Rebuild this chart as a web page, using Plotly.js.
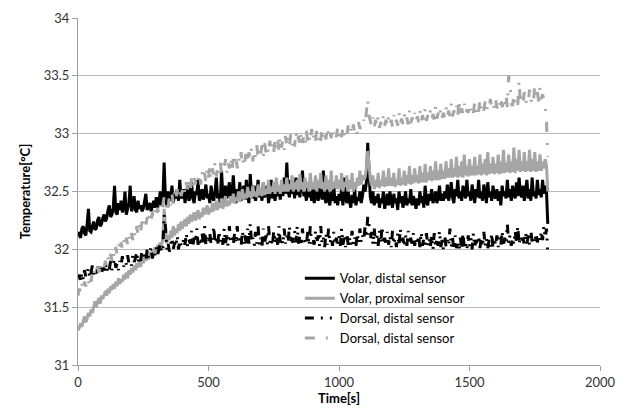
<!DOCTYPE html>
<html>
<head>
<meta charset="utf-8">
<script src="https://cdn.plot.ly/plotly-3.0.1.min.js"></script>
<style>html,body{margin:0;padding:0;background:#fff;}#chart{width:626px;height:410px;}</style>
</head>
<body>
<div id="chart"></div>
<script>
// Samples every 5 s from 0 to 1800 s (one row = 100 s)
const startTime = 0;
const sampleStep = 5;
const seriesNames = ["Volar, distal sensor", "Volar, proximal sensor", "Dorsal, distal sensor", "Dorsal, distal sensor"];

const volarDistal = [
32.15,32.12,32.1,32.18,32.2,32.14,32.12,32.22,32.35,32.16,32.15,32.2,32.24,32.17,32.18,32.25,32.28,32.2,32.22,32.27,
32.3,32.24,32.27,32.34,32.38,32.28,32.3,32.36,32.55,32.32,32.3,32.4,32.34,32.42,32.32,32.36,32.5,32.3,32.34,32.4,
32.55,32.33,32.36,32.46,32.34,32.32,32.42,32.35,32.38,32.33,32.35,32.42,32.48,32.34,32.37,32.4,32.33,32.38,32.42,32.36,
32.45,32.36,32.4,32.5,32.38,32.42,32.75,32.45,32.38,32.5,32.42,32.45,32.55,32.4,32.48,32.44,32.52,32.42,32.6,32.44,
32.46,32.52,32.4,32.48,32.55,32.42,32.46,32.58,32.44,32.4,32.5,32.47,32.6,32.42,32.45,32.52,32.43,32.48,32.56,32.44,
32.48,32.4,32.55,32.45,32.42,32.5,32.62,32.44,32.48,32.4,32.68,32.46,32.42,32.55,32.44,32.5,32.58,32.42,32.47,32.64,
32.45,32.4,32.52,32.46,32.58,32.42,32.48,32.55,32.43,32.6,32.46,32.4,32.65,32.47,32.44,32.55,32.42,32.48,32.6,32.45,
32.5,32.42,32.58,32.45,32.48,32.55,32.4,32.47,32.6,32.44,32.5,32.42,32.55,32.46,32.52,32.43,32.58,32.46,32.62,32.48,
32.75,32.5,32.45,32.6,32.48,32.55,32.44,32.62,32.47,32.52,32.45,32.58,32.68,32.46,32.5,32.42,32.56,32.45,32.5,32.42,
32.52,32.4,32.46,32.55,32.42,32.48,32.58,32.43,32.68,32.45,32.4,32.52,32.44,32.38,32.5,32.42,32.55,32.4,32.46,32.38,
32.48,32.42,32.52,32.38,32.62,32.44,32.4,32.5,32.42,32.36,32.47,32.4,32.52,32.38,32.45,32.42,32.5,32.4,32.46,32.56,
32.5,32.58,32.92,32.7,32.45,32.4,32.5,32.38,32.46,32.4,32.48,32.36,32.44,32.4,32.5,32.35,32.44,32.48,32.38,32.5,
32.42,32.36,32.48,32.4,32.44,32.34,32.5,32.4,32.46,32.36,32.42,32.5,32.38,32.44,32.4,32.52,32.38,32.46,32.42,32.35,
32.44,32.38,32.5,32.4,32.46,32.36,32.55,32.42,32.38,32.48,32.42,32.52,32.4,32.46,32.5,32.4,32.45,32.55,32.42,32.48,
32.42,32.5,32.44,32.56,32.42,32.48,32.58,32.45,32.4,32.52,32.46,32.6,32.44,32.5,32.42,32.55,32.48,32.44,32.6,32.46,
32.5,32.42,32.56,32.46,32.4,32.52,32.45,32.6,32.44,32.5,32.42,32.56,32.46,32.4,32.58,32.45,32.5,32.42,32.55,32.46,
32.44,32.52,32.42,32.5,32.38,32.55,32.46,32.5,32.44,32.6,32.45,32.52,32.42,32.55,32.48,32.44,32.58,32.46,32.62,32.48,
32.45,32.55,32.42,32.5,32.6,32.44,32.52,32.42,32.62,32.46,32.5,32.44,32.6,32.47,32.52,32.45,32.6,32.48,32.55,32.5,
32.22];

const volarProximal = [
31.3,31.32,31.36,31.33,31.38,31.42,31.37,31.4,31.45,31.42,31.48,31.45,31.5,31.55,31.5,31.54,31.58,31.53,31.6,31.57,
31.6,31.64,31.6,31.66,31.62,31.68,31.65,31.7,31.66,31.72,31.68,31.75,31.7,31.74,31.72,31.78,31.74,31.8,31.75,31.82,
31.78,31.84,31.8,31.86,31.82,31.88,31.84,31.9,31.85,31.92,31.88,31.94,31.9,31.96,31.91,31.98,31.94,32.0,31.96,32.02,
31.96,32.04,32.0,32.06,32.02,32.1,32.35,32.2,32.05,32.12,32.08,32.16,32.1,32.2,32.12,32.18,32.14,32.22,32.16,32.24,
32.18,32.22,32.26,32.2,32.28,32.22,32.3,32.24,32.28,32.32,32.25,32.3,32.34,32.26,32.32,32.28,32.36,32.3,32.34,32.38,
32.3,32.36,32.32,32.4,32.33,32.38,32.42,32.34,32.4,32.36,32.44,32.35,32.4,32.46,32.37,32.42,32.38,32.46,32.4,32.48,
32.4,32.45,32.42,32.5,32.41,32.46,32.52,32.43,32.48,32.44,32.54,32.45,32.5,32.44,32.55,32.46,32.5,32.45,32.56,32.47,
32.5,32.46,32.58,32.47,32.52,32.48,32.6,32.48,32.54,32.5,32.58,32.48,32.62,32.5,32.55,32.48,32.6,32.5,32.56,32.5,
32.62,32.5,32.56,32.52,32.64,32.5,32.58,32.52,32.6,32.5,32.65,32.52,32.58,32.5,32.62,32.53,32.58,32.5,32.66,32.52,
32.58,32.52,32.64,32.5,32.6,32.53,32.66,32.52,32.58,32.5,32.64,32.52,32.6,32.5,32.68,32.52,32.58,32.53,32.64,32.52,
32.6,32.52,32.66,32.5,32.58,32.54,32.64,32.5,32.6,32.52,32.66,32.5,32.58,32.52,32.62,32.55,32.68,32.56,32.64,32.6,
32.62,32.7,32.85,32.75,32.6,32.55,32.64,32.52,32.6,32.54,32.66,32.53,32.6,32.55,32.68,32.54,32.62,32.55,32.7,32.55,
32.62,32.55,32.66,32.54,32.6,32.56,32.7,32.55,32.62,32.56,32.68,32.55,32.64,32.57,32.72,32.56,32.64,32.57,32.7,32.58,
32.64,32.57,32.72,32.58,32.66,32.58,32.74,32.58,32.66,32.6,32.72,32.59,32.68,32.6,32.76,32.6,32.68,32.6,32.74,32.61,
32.68,32.61,32.76,32.62,32.7,32.62,32.78,32.62,32.7,32.63,32.8,32.62,32.72,32.63,32.76,32.62,32.82,32.64,32.72,32.63,
32.78,32.64,32.72,32.64,32.8,32.64,32.72,32.65,32.82,32.64,32.74,32.65,32.78,32.64,32.84,32.65,32.74,32.66,32.8,32.65,
32.74,32.66,32.82,32.65,32.76,32.66,32.86,32.66,32.75,32.67,32.82,32.66,32.76,32.67,32.88,32.66,32.78,32.68,32.86,32.67,
32.76,32.68,32.84,32.67,32.76,32.68,32.86,32.67,32.78,32.68,32.84,32.67,32.76,32.68,32.82,32.68,32.76,32.7,32.78,32.72,
32.5];

const dorsalDistalBlack = [
31.75,31.78,31.72,31.8,31.74,31.82,31.76,31.78,31.84,31.75,31.8,31.86,31.78,31.82,31.76,31.85,31.8,31.88,31.79,31.84,
31.82,31.88,31.8,31.86,31.83,31.9,31.82,31.86,31.92,31.84,31.88,31.82,31.9,31.86,31.94,31.85,31.9,31.87,31.95,31.88,
31.9,31.86,31.95,31.89,31.92,31.98,31.88,31.94,31.9,31.99,31.92,31.96,31.9,32.0,31.93,31.97,32.02,31.92,31.98,31.95,
32.02,31.95,31.99,32.05,31.97,32.0,32.3,32.2,32.0,32.06,31.98,32.04,32.1,32.0,32.06,32.02,32.12,32.0,32.08,32.04,
32.02,32.1,32.04,32.14,32.02,32.08,32.05,32.16,32.03,32.1,32.06,32.18,32.04,32.09,32.03,32.14,32.06,32.2,32.04,32.1,
32.05,32.14,32.04,32.08,32.2,32.05,32.12,32.03,32.16,32.06,32.1,32.04,32.18,32.05,32.12,32.03,32.2,32.06,32.1,32.04,
32.14,32.05,32.2,32.06,32.1,32.03,32.16,32.05,32.12,32.04,32.18,32.05,32.22,32.06,32.1,32.03,32.15,32.05,32.2,32.04,
32.1,32.03,32.18,32.05,32.12,32.04,32.2,32.06,32.1,32.03,32.16,32.05,32.12,32.04,32.2,32.06,32.1,32.04,32.18,32.05,
32.12,32.06,32.2,32.05,32.1,32.04,32.16,32.06,32.2,32.05,32.12,32.03,32.18,32.06,32.1,32.04,32.15,32.03,32.2,32.05,
32.1,32.04,32.16,32.05,32.12,32.03,32.2,32.05,32.1,32.02,32.14,32.04,32.18,32.05,32.1,32.03,32.15,32.04,32.1,32.02,
32.12,32.03,32.18,32.04,32.1,32.02,32.14,32.04,32.1,32.03,32.16,32.04,32.1,32.03,32.14,32.05,32.18,32.06,32.12,32.08,
32.2,32.1,32.28,32.22,32.08,32.15,32.04,32.18,32.05,32.12,32.03,32.16,32.05,32.2,32.04,32.1,32.03,32.15,32.04,32.12,
32.02,32.16,32.04,32.1,32.02,32.14,32.03,32.18,32.04,32.1,32.02,32.12,32.03,32.16,32.04,32.1,32.02,32.14,32.03,32.1,
32.04,32.12,32.02,32.15,32.03,32.1,32.01,32.14,32.03,32.1,32.02,32.12,32.0,32.14,32.02,32.1,32.03,32.16,32.02,32.08,
32.0,32.12,32.02,32.08,32.03,32.18,32.02,32.1,32.0,32.12,32.01,32.08,31.99,32.1,32.0,32.14,32.02,32.06,31.99,32.12,
32.02,32.1,32.0,32.14,32.02,32.08,32.03,32.12,32.01,32.1,32.02,32.15,32.03,32.1,32.01,32.08,32.02,32.14,32.01,32.1,
32.03,32.12,32.02,32.1,32.04,32.16,32.02,32.1,32.04,32.22,32.05,32.12,32.03,32.1,32.04,32.16,32.05,32.2,32.04,32.12,
32.05,32.1,32.04,32.15,32.05,32.12,32.04,32.16,32.06,32.1,32.05,32.14,32.06,32.12,32.07,32.16,32.08,32.2,32.1,32.18,
31.96];

const dorsalDistalGray = [
31.6,31.66,31.62,31.7,31.64,31.72,31.68,31.74,31.7,31.78,31.72,31.8,31.76,31.82,31.78,31.85,31.8,31.88,31.82,31.86,
31.84,31.9,31.85,31.93,31.88,31.96,31.9,31.98,31.92,32.02,31.95,32.04,31.98,32.06,32.0,32.08,32.02,32.1,32.04,32.12,
32.06,32.14,32.08,32.16,32.1,32.2,32.12,32.22,32.15,32.24,32.18,32.26,32.2,32.28,32.22,32.3,32.24,32.32,32.26,32.34,
32.28,32.36,32.3,32.38,32.32,32.4,32.45,32.36,32.42,32.36,32.46,32.38,32.48,32.4,32.5,32.42,32.52,32.44,32.54,32.46,
32.5,32.56,32.48,32.58,32.52,32.6,32.5,32.62,32.54,32.64,32.56,32.62,32.58,32.66,32.56,32.68,32.6,32.66,32.58,32.7,
32.62,32.72,32.6,32.7,32.64,32.75,32.63,32.72,32.66,32.76,32.65,32.74,32.68,32.78,32.66,32.76,32.7,32.8,32.68,32.78,
32.72,32.82,32.7,32.8,32.74,32.84,32.72,32.82,32.76,32.86,32.74,32.84,32.78,32.88,32.76,32.86,32.8,32.9,32.78,32.88,
32.82,32.9,32.8,32.92,32.84,32.9,32.82,32.94,32.85,32.92,32.84,32.96,32.86,32.94,32.85,32.98,32.88,32.95,32.86,32.98,
32.9,32.97,32.88,33.0,32.9,32.96,32.89,33.02,32.92,32.98,32.9,33.02,32.92,32.98,32.91,33.03,32.93,32.99,32.92,33.04,
32.94,33.0,32.93,33.04,32.95,33.0,32.94,33.05,32.96,33.01,32.95,33.06,32.97,33.02,32.96,33.05,32.98,33.02,32.97,33.06,
32.98,33.04,32.97,33.06,32.99,33.03,32.98,33.07,33.0,33.04,32.99,33.08,33.01,33.05,33.0,33.1,33.04,33.08,33.06,33.12,
33.08,33.2,33.3,33.16,33.1,33.06,33.14,33.05,33.12,33.06,33.15,33.05,33.1,33.06,33.16,33.07,33.12,33.06,33.15,33.08,
33.12,33.06,33.16,33.08,33.12,33.07,33.18,33.08,33.13,33.08,33.17,33.09,33.14,33.08,33.2,33.09,33.14,33.1,33.18,33.1,
33.15,33.1,33.2,33.1,33.16,33.11,33.22,33.11,33.16,33.12,33.2,33.12,33.17,33.12,33.24,33.13,33.18,33.13,33.22,33.14,
33.18,33.14,33.23,33.14,33.2,33.15,33.26,33.15,33.2,33.16,33.24,33.15,33.3,33.16,33.22,33.17,33.26,33.17,33.21,33.18,
33.26,33.18,33.22,33.18,33.28,33.19,33.24,33.19,33.3,33.2,33.24,33.2,33.28,33.2,33.24,33.21,33.3,33.21,33.25,33.22,
33.3,33.22,33.26,33.22,33.32,33.23,33.27,33.22,33.34,33.23,33.5,33.45,33.26,33.24,33.34,33.24,33.28,33.25,33.46,33.26,
33.32,33.25,33.36,33.26,33.3,33.27,33.38,33.27,33.32,33.28,33.42,33.3,33.36,33.28,33.4,33.3,33.34,33.3,33.25,33.1,
32.8];

const xTicks = [0, 500, 1000, 1500, 2000];
const yTicks = [31, 31.5, 32, 32.5, 33, 33.5, 34];

const black = "#000000";
const gray = "#a6a6a6";

const traces = [
  {y: volarDistal, name: seriesNames[0], line: {color: black, width: 3}},
  {y: volarProximal, name: seriesNames[1], line: {color: gray, width: 3}},
  {y: dorsalDistalBlack, name: seriesNames[2], line: {color: black, width: 3, dash: "9px,7px,2px,7px,2px,7px"}},
  {y: dorsalDistalGray, name: seriesNames[3], line: {color: gray, width: 3, dash: "10px,11px,2px,11px"}}
].map(t => Object.assign({type: "scatter", mode: "lines", x0: startTime, dx: sampleStep}, t));

const font = "Lato, 'Open Sans', sans-serif";
const layout = {
  width: 626, height: 410,
  margin: {l: 78, r: 26, t: 18, b: 45},
  paper_bgcolor: "#fff", plot_bgcolor: "#fff",
  font: {family: font, size: 13, color: "#333"},
  showlegend: true,
  legend: {
    x: 0.425, y: 0.293, xanchor: "left", yanchor: "top",
    bgcolor: "rgba(0,0,0,0)", font: {family: font, size: 13, color: "#000"},
    tracegroupgap: 0, itemwidth: 30
  },
  xaxis: {
    range: [0, 2000], tickvals: xTicks, ticktext: xTicks.map(String),
    showgrid: false, zeroline: false,
    showline: true, linecolor: "#a0a0a0", linewidth: 1,
    ticks: "outside", ticklen: 5, tickcolor: "#a0a0a0",
    tickfont: {family: font, size: 13, color: "#333"},
    title: {text: "<b>Time[s]</b>", font: {family: font, size: 13, color: "#000"}, standoff: 2}
  },
  yaxis: {
    range: [31, 34], tickvals: yTicks, ticktext: yTicks.map(String),
    showgrid: true, gridcolor: "#b8b8b8", gridwidth: 1, zeroline: false,
    showline: true, linecolor: "#a0a0a0", linewidth: 1,
    ticks: "outside", ticklen: 5, tickcolor: "#a0a0a0",
    tickfont: {family: font, size: 13, color: "#333"},
    title: {text: "<b>Temperature[°C]</b>", font: {family: font, size: 13, color: "#000"}, standoff: 10}
  }
};

Plotly.newPlot("chart", traces, layout, {displayModeBar: false, staticPlot: true});
</script>
</body>
</html>
